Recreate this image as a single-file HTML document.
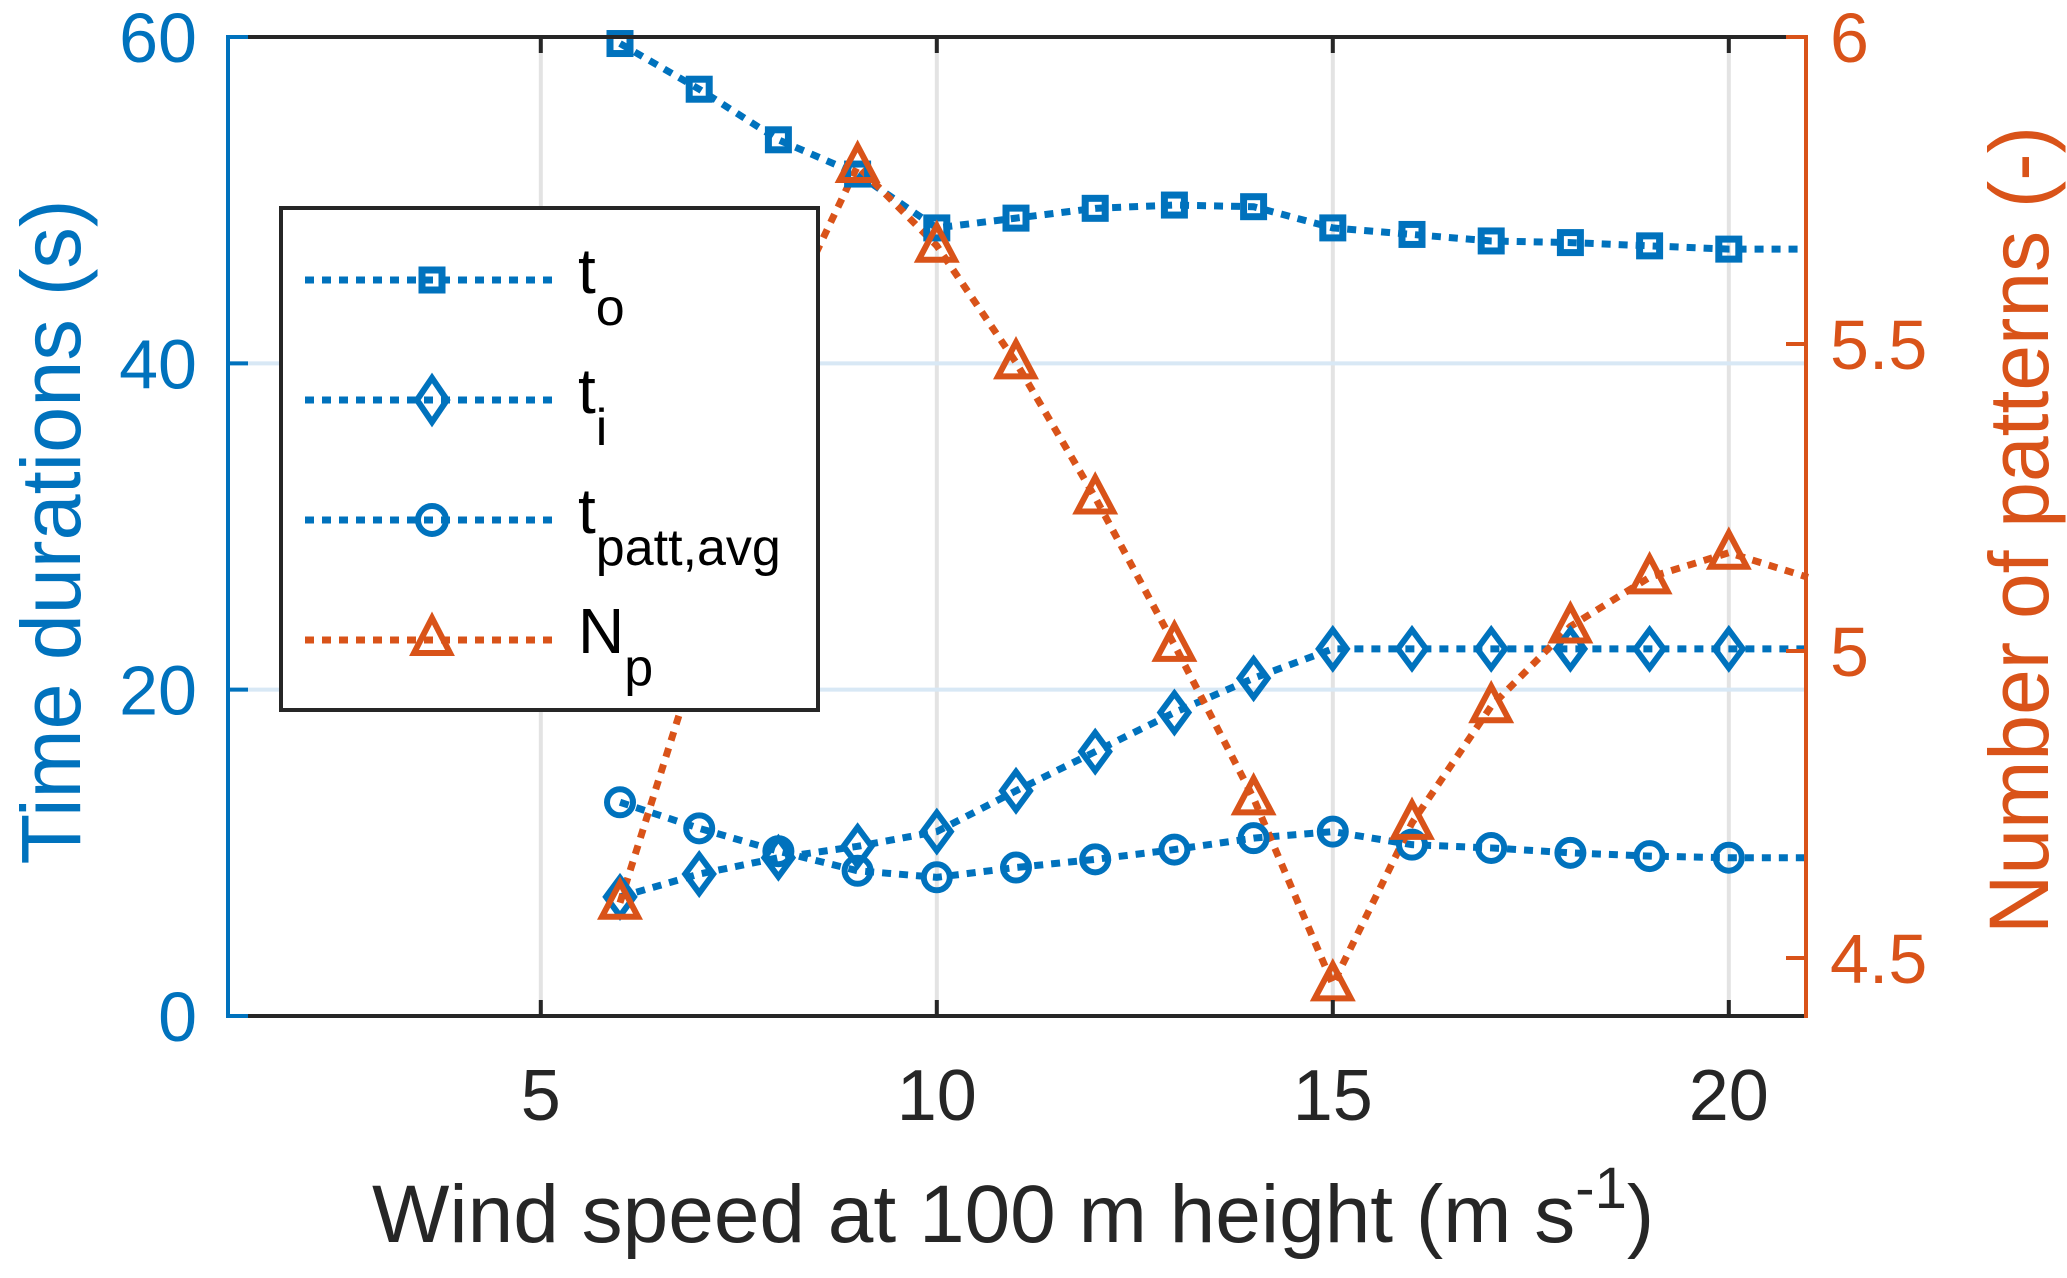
<!DOCTYPE html>
<html><head><meta charset="utf-8"><style>
html,body{margin:0;padding:0;background:#fff;}
svg{display:block;font-family:"Liberation Sans",Arial,sans-serif;}
</style></head><body>
<svg id="chart" width="2067" height="1278" viewBox="0 0 2067 1278" xmlns="http://www.w3.org/2000/svg">
<rect x="0" y="0" width="2067" height="1278" fill="#fff"/>
<g id="grid"></g>
<g id="series"></g>
<g id="axes"></g>
<g id="legend"></g>
</svg>
<script>
const windSpeed = [6,7,8,9,10,11,12,13,14,15,16,17,18,19,20,21];
const tO = [59.6,56.8,53.7,51.6,48.3,48.9,49.5,49.7,49.6,48.3,47.9,47.5,47.4,47.2,47.0,47.0];
const tI = [7.3,8.7,9.7,10.4,11.3,13.8,16.2,18.6,20.7,22.5,22.5,22.5,22.5,22.5,22.5,22.5];
const tPatt = [13.1,11.5,10.1,8.9,8.5,9.1,9.6,10.2,10.9,11.3,10.5,10.3,10.0,9.8,9.7,9.7];
const nP = [4.59,5.0,5.52,5.79,5.66,5.47,5.25,5.01,4.76,4.457,4.72,4.91,5.04,5.12,5.16,5.12];
const markerCount = 15; // markers drawn for 6..20, line extends to 21
const xTicks = [5,10,15,20];
const yLeftTicks = [0,20,40,60];
const yRightTicks = [4.5,5,5.5,6];
const yRightTickLabels = ["4.5","5","5.5","6"];

const NS="http://www.w3.org/2000/svg";
const BLUE="#0072BD", ORANGE="#D95319", DARK="#262626";
const L=228,R=1806,T=37,B=1016;
function xs(v){return 224+(v-1)*(1808-224)/20;}
function yl(v){return B-(v-0)*(B-T)/60;}
function yr(v){return 958-(v-4.5)*(958-T)/1.5;}
function mk(tag,attrs,parent){const e=document.createElementNS(NS,tag);for(const k in attrs)e.setAttribute(k,attrs[k]);parent.appendChild(e);return e;}
const grid=document.getElementById('grid'),series=document.getElementById('series'),axes=document.getElementById('axes'),legend=document.getElementById('legend');

xTicks.forEach(t=>{const l=mk('line',{x1:xs(t),x2:xs(t),y1:T,y2:B,stroke:'#e3e3e3','stroke-width':4},grid);

});
yLeftTicks.forEach(t=>{if(t===0||t===60)return;const l=mk('line',{x1:L,x2:R,y1:yl(t),y2:yl(t),stroke:'#d8e8f5','stroke-width':4},grid);

});

function drawLine(vals,yf,color,name){
  const pts=windSpeed.map((x,i)=>xs(x)+','+yf(vals[i])).join(' ');
  const p=mk('polyline',{points:pts,fill:'none',stroke:color,'stroke-width':7,'stroke-dasharray':'9 8'},series);
  
  
}
function drawMarker(type,cx,cy,color,parent,name){
  let e;
  if(type==='square') e=mk('rect',{x:cx-10,y:cy-10,width:20,height:20,fill:'none',stroke:color,'stroke-width':7},parent);
  else if(type==='diamond') e=mk('polygon',{points:`${cx},${cy-19} ${cx+14},${cy} ${cx},${cy+19} ${cx-14},${cy}`,fill:'none',stroke:color,'stroke-width':6},parent);
  else if(type==='circle') e=mk('circle',{cx:cx,cy:cy,r:13,fill:'none',stroke:color,'stroke-width':6},parent);
  else e=mk('polygon',{points:`${cx},${cy-20} ${cx+18},${cy+14} ${cx-18},${cy+14}`,fill:'none',stroke:color,'stroke-width':6,'stroke-linejoin':'miter'},parent);
  
  
}
drawLine(tO,yl,BLUE,'t-o');drawLine(tI,yl,BLUE,'t-i');drawLine(tPatt,yl,BLUE,'t-patt-avg');drawLine(nP,yr,ORANGE,'n-p');
for(let i=0;i<markerCount;i++){
  drawMarker('square',xs(windSpeed[i]),yl(tO[i]),BLUE,series,'t-o-marker');
  drawMarker('diamond',xs(windSpeed[i]),yl(tI[i]),BLUE,series,'t-i-marker');
  drawMarker('circle',xs(windSpeed[i]),yl(tPatt[i]),BLUE,series,'t-patt-avg-marker');
  drawMarker('triangle',xs(windSpeed[i]),yr(nP[i]),ORANGE,series,'n-p-marker');
}

// axes
let a;
a=mk('line',{x1:L,x2:R,y1:T,y2:T,stroke:DARK,'stroke-width':4},axes);
a=mk('line',{x1:L,x2:R,y1:B,y2:B,stroke:DARK,'stroke-width':4},axes);
a=mk('line',{x1:L,x2:L,y1:T-2,y2:B+2,stroke:BLUE,'stroke-width':4},axes);
a=mk('line',{x1:R,x2:R,y1:T-2,y2:B+2,stroke:ORANGE,'stroke-width':4},axes);
xTicks.forEach(t=>{
  let k=mk('line',{x1:xs(t),x2:xs(t),y1:B,y2:B-16,stroke:DARK,'stroke-width':4},axes);
  
  
  k=mk('line',{x1:xs(t),x2:xs(t),y1:T,y2:T+16,stroke:DARK,'stroke-width':4},axes);
  
  
  const tx=mk('text',{x:xs(t),y:1120,'text-anchor':'middle','font-size':72,fill:DARK},axes);tx.textContent=t;
  
  
});
yLeftTicks.forEach(t=>{
  const k=mk('line',{x1:L,x2:L+20,y1:yl(t),y2:yl(t),stroke:BLUE,'stroke-width':4},axes);
  
  
  const tx=mk('text',{x:197,y:yl(t)+25,'text-anchor':'end','font-size':70,fill:BLUE},axes);tx.textContent=t;
  
  
});
yRightTicks.forEach((t,i)=>{
  const k=mk('line',{x1:R,x2:R-20,y1:yr(t),y2:yr(t),stroke:ORANGE,'stroke-width':4},axes);
  
  
  const tx=mk('text',{x:1830,y:yr(t)+25,'text-anchor':'start','font-size':70,fill:ORANGE},axes);tx.textContent=yRightTickLabels[i];
  
  
});
</script>
<svg width="0" height="0" style="position:absolute"></svg>
<script>
(function(){
const NS="http://www.w3.org/2000/svg";
const svg=document.getElementById('chart');
function mk(tag,attrs,parent){const e=document.createElementNS(NS,tag);for(const k in attrs)e.setAttribute(k,attrs[k]);parent.appendChild(e);return e;}
let t=mk('text',{x:0,y:0,'font-size':84,fill:'#0072BD','text-anchor':'middle',textLength:665,lengthAdjust:'spacingAndGlyphs',transform:'translate(80,532) rotate(-90)'},svg);
t.textContent='Time durations (s)';


t=mk('text',{x:0,y:0,'font-size':84,fill:'#D95319','text-anchor':'middle',textLength:808,lengthAdjust:'spacingAndGlyphs',transform:'translate(2048,530) rotate(-90)'},svg);
t.textContent='Number of patterns (-)';


t=mk('text',{x:372,y:1242,'font-size':82,fill:'#262626'},svg);


t.innerHTML='<tspan>Wind speed at 100 m height (m s</tspan><tspan dy="-34" font-size="58">-1</tspan><tspan dy="34">)</tspan>';

const lg=document.getElementById('legend');
let r=mk('rect',{x:281,y:208,width:537,height:502,fill:'#fff',stroke:'#262626','stroke-width':4},lg);


const entries=[['square','#0072BD','t','o',280],['diamond','#0072BD','t','i',400],['circle','#0072BD','t','patt,avg',520],['triangle','#D95319','N','p',640]];
entries.forEach(en=>{
  const g=mk('g',{},lg);
  
  
  const y=en[4],c=en[1];
  mk('line',{x1:305,x2:557,y1:y,y2:y,stroke:c,'stroke-width':7,'stroke-dasharray':'9 8'},g);
  const cx=432;
  if(en[0]==='square') mk('rect',{x:cx-10,y:y-10,width:20,height:20,fill:'none',stroke:c,'stroke-width':7},g);
  else if(en[0]==='diamond') mk('polygon',{points:`${cx},${y-22} ${cx+15},${y} ${cx},${y+22} ${cx-15},${y}`,fill:'none',stroke:c,'stroke-width':6},g);
  else if(en[0]==='circle') mk('circle',{cx:cx,cy:y,r:14,fill:'none',stroke:c,'stroke-width':6},g);
  else mk('polygon',{points:`${cx},${y-22} ${cx+18},${y+13} ${cx-18},${y+13}`,fill:'none',stroke:c,'stroke-width':6},g);
  const tx=mk('text',{x:578,y:y+13,'font-size':64,fill:'#000'},g);
  tx.innerHTML='<tspan>'+en[2]+'</tspan><tspan dy="32" font-size="52">'+en[3]+'</tspan>';
});
})();
</script>
</body></html>
